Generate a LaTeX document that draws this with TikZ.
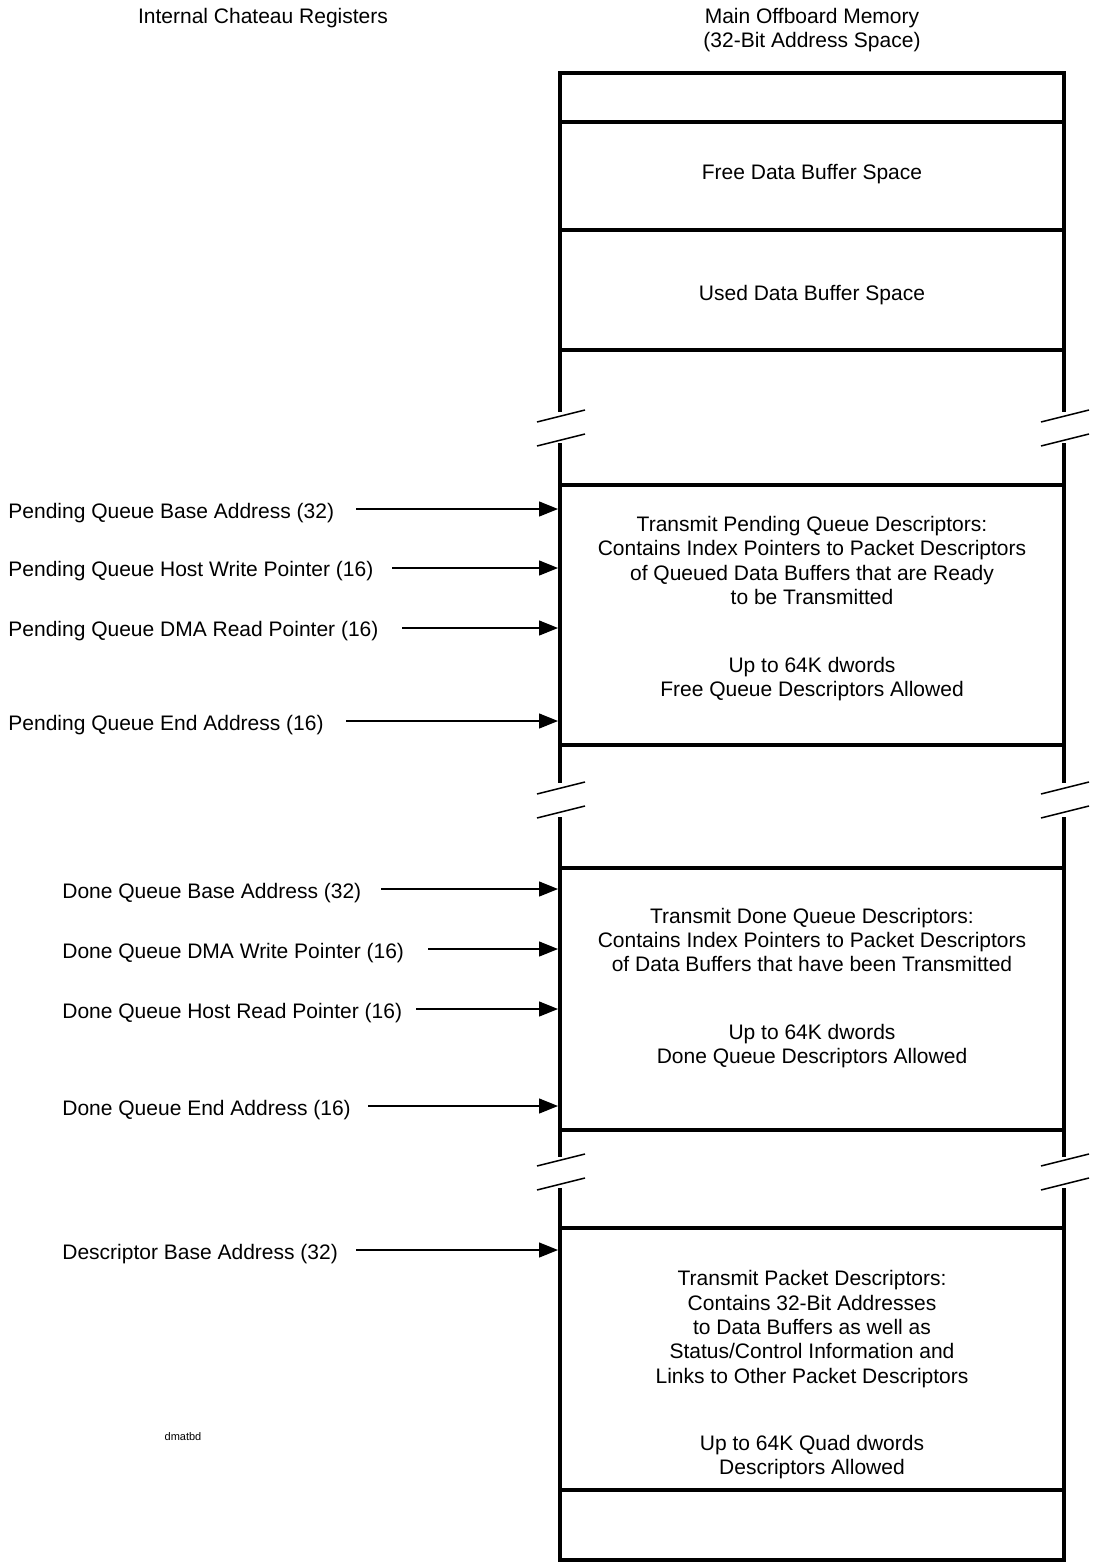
\documentclass[tikz,border=0pt]{standalone}
\usepackage{fontspec}
\setmainfont{Liberation Sans}
\usetikzlibrary{arrows.meta}
\begin{document}
\begin{tikzpicture}[x=0.5pt,y=-0.5pt,
  txt/.style={font=\fontsize{10.5}{12.15}\selectfont, inner sep=0pt, align=center},
  lbl/.style={font=\fontsize{10.5}{12.15}\selectfont, inner sep=0pt, anchor=west},
  wall/.style={line width=2.3pt, line join=miter},
  brk/.style={line width=0.75pt},
  arr/.style={line width=0.65pt, -{Triangle[length=9.5pt,width=7.5pt]}}]
\useasboundingbox (0,0) rectangle (1094,1564);
% headers
\node[txt] (hl) at (263,18) {Internal Chateau Registers};
\node[txt] (hr) at (812,30) {Main Offboard Memory\\(32-Bit Address Space)};
% memory column walls
\draw[wall] (560,412) -- (560,73) -- (1064,73) -- (1064,412);
\draw[wall] (560,443) -- (560,783);
\draw[wall] (1064,443) -- (1064,783);
\draw[wall] (560,817) -- (560,1157);
\draw[wall] (1064,817) -- (1064,1157);
\draw[wall] (560,1188) -- (560,1560) -- (1064,1560) -- (1064,1188);
\foreach \y in {122,230,350,485,745,868,1130,1228,1490}
  \draw[wall] (560,\y) -- (1064,\y);
% break marks
\foreach \m in {428,800,1172}{
  \foreach \xc in {561,1065}{
    \draw[brk] (\xc-24,\m-12+6) -- (\xc+24,\m-12-6);
    \draw[brk] (\xc-24,\m+12+6) -- (\xc+24,\m+12-6);
  }
}
% region texts
\node[txt] (free) at (812,174) {Free Data Buffer Space};
\node[txt] (used) at (812,295) {Used Data Buffer Space};
\node[txt] (pq1) at (812,560.5) {Transmit Pending Queue Descriptors:\\Contains Index Pointers to Packet Descriptors\\of Queued Data Buffers that are Ready\\to be Transmitted};
\node[txt] (pq2) at (812,679) {Up to 64K dwords\\Free Queue Descriptors Allowed};
\node[txt] (dq1) at (812,940) {Transmit Done Queue Descriptors:\\Contains Index Pointers to Packet Descriptors\\of Data Buffers that have been Transmitted};
\node[txt] (dq2) at (812,1046) {Up to 64K dwords\\Done Queue Descriptors Allowed};
\node[txt] (pd1) at (812,1329) {Transmit Packet Descriptors:\\Contains 32-Bit Addresses\\to Data Buffers as well as\\Status/Control Information and\\Links to Other Packet Descriptors};
\node[txt] (pd2) at (812,1457) {Up to 64K Quad dwords\\ Descriptors Allowed};
\node[font=\fontsize{5.5}{6.5}\selectfont, inner sep=0pt] (tag) at (183,1437) {dmatbd};
% register labels
\node[lbl] (r1) at (8,513) {Pending Queue Base Address (32)};
\node[lbl] (r2) at (8,571) {Pending Queue Host Write Pointer (16)};
\node[lbl] (r3) at (8,631) {Pending Queue DMA Read Pointer (16)};
\node[lbl] (r4) at (8,725) {Pending Queue End Address (16)};
\node[lbl] (r5) at (62,893) {Done Queue Base Address (32)};
\node[lbl] (r6) at (62,953) {Done Queue DMA Write Pointer (16)};
\node[lbl] (r7) at (62,1013) {Done Queue Host Read Pointer (16)};
\node[lbl] (r8) at (62,1110) {Done Queue End Address (16)};
\node[lbl] (r9) at (62,1254) {Descriptor Base Address (32)};
% arrow start and end points
\coordinate (s1) at (356,509);  \coordinate (e1) at (558,509);
\coordinate (s2) at (392,568);  \coordinate (e2) at (558,568);
\coordinate (s3) at (402,628);  \coordinate (e3) at (558,628);
\coordinate (s4) at (346,721);  \coordinate (e4) at (558,721);
\coordinate (s5) at (381,889);  \coordinate (e5) at (558,889);
\coordinate (s6) at (428,949);  \coordinate (e6) at (558,949);
\coordinate (s7) at (416,1009); \coordinate (e7) at (558,1009);
\coordinate (s8) at (368,1106); \coordinate (e8) at (558,1106);
\coordinate (s9) at (356,1250); \coordinate (e9) at (558,1250);
\foreach \i in {1,...,9} \draw[arr] (s\i) -- (e\i);
\end{tikzpicture}
\end{document}
